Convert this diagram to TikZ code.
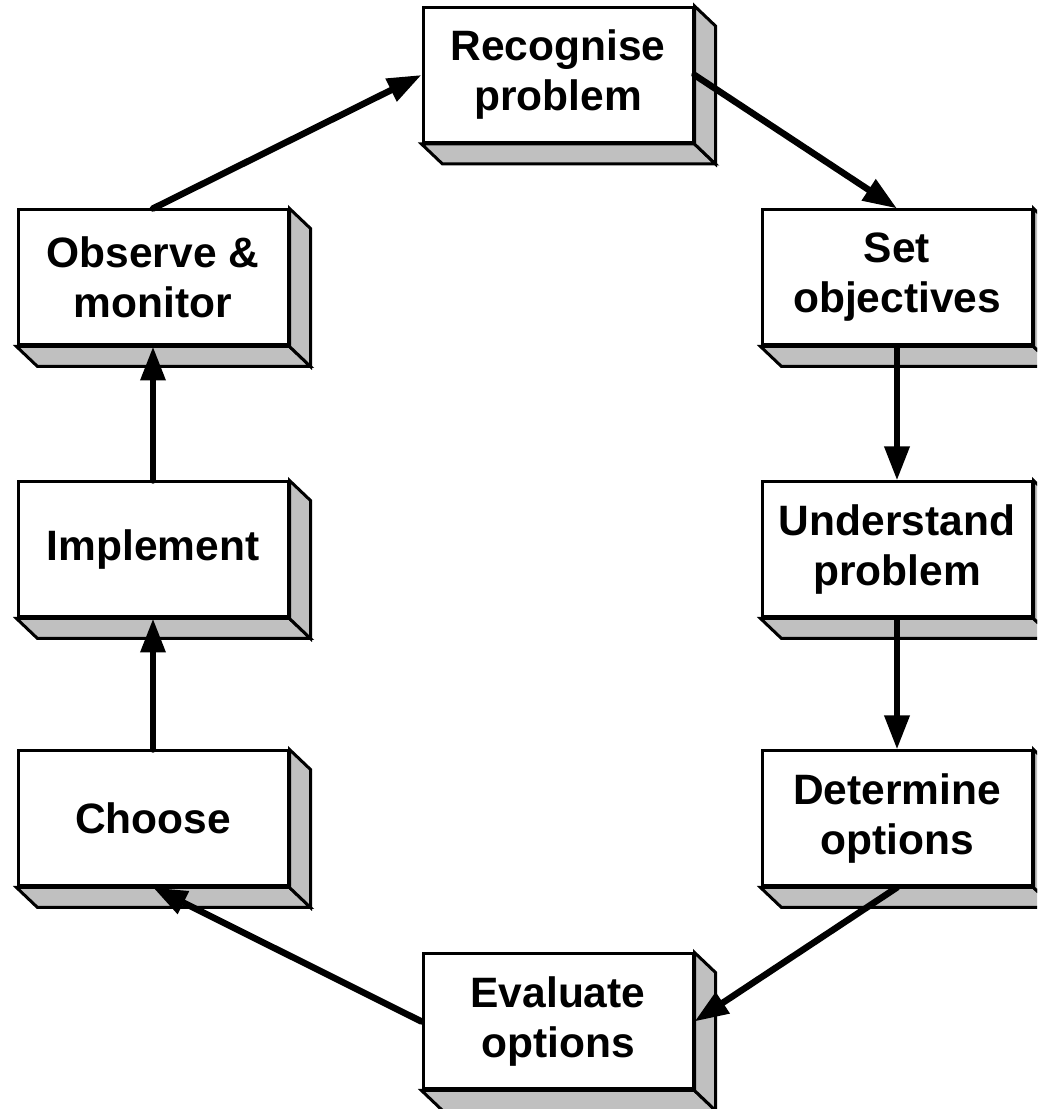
\documentclass[tikz,border=0pt]{standalone}
\usepackage{fontspec}
\setmainfont{Liberation Sans}
\usetikzlibrary{arrows.meta}
\definecolor{sidegray}{RGB}{192,192,192}
\tikzset{
  x=1pt, y=1pt,
  stepbox/.style={draw, line width=3pt, fill=white, minimum width=270pt,
    minimum height=135pt, inner sep=0pt, align=center,
    font=\fontsize{42.5}{50}\selectfont\bfseries},
  face/.style={draw, line width=3pt, fill=sidegray, line join=miter},
  flow/.style={line width=6.5pt, line cap=round,
    -{Triangle[length=34pt,width=24pt]}}
}
% side and bottom faces of a raised box
\newcommand{\extrude}[1]{%
  \draw[face] (#1.south west) -- (#1.south east) -- ++(21,-20) -- ([shift={(21,-20)}]#1.south west) -- cycle;
  \draw[face] (#1.north east) -- ++(21,-20) -- ([shift={(21,-20)}]#1.south east) -- (#1.south east) -- cycle;
}
\begin{document}
\begin{tikzpicture}
\useasboundingbox (0,0) rectangle (1037,1109);
\clip (0,0) rectangle (1037,1109);

\node[stepbox] (rec) at (558,1034) {Recognise\\problem};
\node[stepbox] (set) at (897,831.5) {Set\\objectives};
\node[stepbox] (und) at (897,559.5) {Understand\\problem};
\node[stepbox] (det) at (897,290.5) {Determine\\options};
\node[stepbox] (eva) at (558,87.5) {Evaluate\\options};
\node[stepbox] (cho) at (153,290.5) {Choose};
\node[stepbox] (imp) at (153,559.5) {Implement};
\node[stepbox] (obs) at (153,831.5) {Observe \&\\monitor};

\foreach \b in {rec,set,und,det,eva,cho,imp,obs} {\extrude{\b}}

\draw[flow] (obs.north) -- (rec.west);
\draw[flow] (rec.east) -- (set.north);
\draw[flow] (set.south) -- (und.north);
\draw[flow] (und.south) -- (det.north);
\draw[flow] (det.south) -- (eva.east);
\draw[flow] (eva.west) -- (cho.south);
\draw[flow] (cho.north) -- (imp.south);
\draw[flow] (imp.north) -- (obs.south);
\end{tikzpicture}
\end{document}
